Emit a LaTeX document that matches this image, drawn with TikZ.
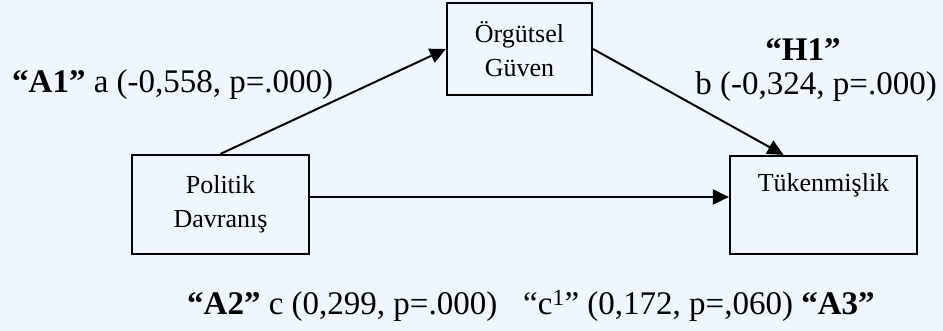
\documentclass[tikz,border=0pt]{standalone}
\usepackage{fontspec}
\setmainfont{Liberation Serif}
\usetikzlibrary{arrows.meta,calc}
\definecolor{paper}{HTML}{EEF7FF}
\begin{document}
\begin{tikzpicture}[x=1pt,y=-1pt,
  varbox/.style={draw=black,line width=2.2pt,fill=paper,inner sep=0pt,
    align=center,font=\fontsize{26}{34}\selectfont},
  boxtext/.style={align=center,inner sep=0pt,font=\fontsize{26}{34}\selectfont},
  coef/.style={inner sep=0pt,font=\fontsize{33}{38}\selectfont},
  path/.style={line width=2pt,-{Triangle[length=16pt,width=15pt]}}]
  % page
  \fill[paper] (0,0) rectangle (943,331);
  \useasboundingbox (0,0) rectangle (943,331);

  % variables
  \node[varbox,minimum width=177pt,minimum height=99pt] (pol) at (220.5,204.5)
    {Politik\\Davranış};
  \node[varbox,minimum width=145pt,minimum height=92pt] (org) at (519.5,49)
    {Örgütsel\\Güven};
  \node[varbox,minimum width=187pt,minimum height=98pt] (tuk) at (823.5,205) {};
  \node[boxtext,anchor=base] (tuktext) at (823.5,192) {Tükenmişlik};

  % paths
  \coordinate (dirstart) at (pol.east |- 0,197);
  \draw[path] (pol.north) -- (org.west);
  \draw[path] (org.east) -- ([xshift=-40pt]tuk.north);
  \draw[path] (dirstart) -- (tuk.west |- dirstart);

  % coefficients
  \node[coef,anchor=base west] (a1) at (12,93)
    {\textbf{“A1”} a (-0,558, p=.000)};
  \node[coef,anchor=base] (h1) at (803,61) {\textbf{“H1”}};
  \node[coef,anchor=base east] (bcoef) at (937,95) {b (-0,324, p=.000)};
  \node[coef,anchor=base west] (ccoef) at (187,315)
    {\textbf{“A2”} c (0,299, p=.000)\hspace{26pt}“c\textsuperscript{1}” (0,172, p=,060) \textbf{“A3”}};
\end{tikzpicture}
\end{document}
